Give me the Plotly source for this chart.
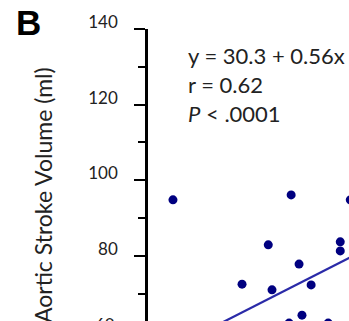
import plotly.graph_objects as go

# Data
x_vals = [45.4, 62.0, 73.8, 88.0, 68.3, 85.6, 85.6, 75.7, 69.2, 78.6, 76.4, 73.3, 82.7]
y_vals = [94.8, 72.5, 96.1, 94.8, 82.9, 83.7, 81.3, 77.8, 71.0, 72.3, 64.3, 62.2, 62.2]
intercept = 30.3
slope = 0.56
fit_x = [40, 140]
fit_y = [intercept + slope * v for v in fit_x]
y_ticks = [60, 80, 100, 120, 140]
stat_lines = ["y = 30.3 + 0.56x", "r = 0.62", "<i>P</i> < .0001"]

FONT = "Lato"
TXT = "#222222"

W, H = 349, 321
L, T = 148, 29
PW, PH = W - L, H - T
Y_MIN, Y_MAX = 62.75, 140


def px(xr):
    return (xr - L) / PW


def py(yr):
    return 1 - (yr - T) / PH


def yval_to_paper(v):
    return (v - Y_MIN) / (Y_MAX - Y_MIN)


fig = go.Figure()
fig.add_trace(go.Scatter(x=fit_x, y=fit_y, mode="lines",
                         line=dict(color="#2a2aa8", width=2.2), hoverinfo="skip"))
fig.add_trace(go.Scatter(x=x_vals, y=y_vals, mode="markers",
                         marker=dict(color="#000080", size=9, line=dict(width=0))))

shown = [v for v in y_ticks if Y_MIN <= v <= Y_MAX]
fig.update_layout(
    width=W, height=H,
    margin=dict(l=L, r=0, t=T, b=0),
    paper_bgcolor="white", plot_bgcolor="white",
    showlegend=False,
    font=dict(family=FONT, color=TXT),
    xaxis=dict(range=[39.4, 87.7], showgrid=False, zeroline=False,
               showticklabels=False, showline=False, ticks=""),
    yaxis=dict(range=[Y_MIN, Y_MAX], showgrid=False, zeroline=False,
               tickvals=shown, ticktext=[str(v) for v in shown],
               showline=True, linecolor="black", linewidth=2.5,
               ticks="outside", ticklen=11, tickwidth=2, tickcolor="black",
               minor=dict(dtick=10, ticks="outside", ticklen=7, tickwidth=2, tickcolor="black"),
               tickfont=dict(family=FONT, size=17, color=TXT),
               ticklabelstandoff=13, ticklabelshift=-7),
)

# Tick label below the visible range (partly cut at the bottom edge, as in the reference)
for v in y_ticks:
    if v < Y_MIN:
        fig.add_annotation(text=str(v), xref="paper", yref="paper", x=px(117),
                           y=yval_to_paper(v),
                           xanchor="right", yanchor="middle", yshift=7, showarrow=False,
                           font=dict(family=FONT, size=17, color=TXT))

# Panel letter
fig.add_annotation(text="<b>B</b>", xref="paper", yref="paper",
                   x=px(14), y=py(23),
                   xanchor="left", yanchor="middle", showarrow=False,
                   font=dict(family="Liberation Sans", size=35, color="black"))

# Y-axis title
fig.add_annotation(text="Aortic Stroke Volume (ml)", xref="paper", yref="paper",
                   x=px(43), y=py(195), textangle=-90,
                   xanchor="center", yanchor="middle", showarrow=False,
                   font=dict(family=FONT, size=23, color=TXT))

# Statistics text
centers = [55, 84, 113]
for line, cy in zip(stat_lines, centers):
    fig.add_annotation(text=line, xref="paper", yref="paper",
                       x=px(186), y=py(cy),
                       xanchor="left", yanchor="middle", showarrow=False,
                       font=dict(family=FONT, size=22, color=TXT))

fig.write_html("out.html", config={"displayModeBar": False},
               post_script="document.body.style.margin='0';")
